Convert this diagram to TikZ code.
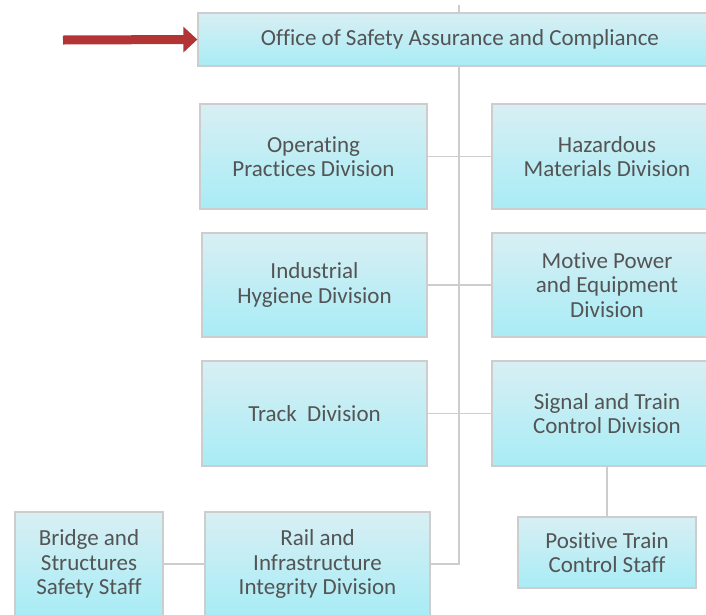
\documentclass[tikz,border=0pt]{standalone}
\usepackage{fontspec}
\setmainfont[Ligatures=NoCommon]{Carlito}
\usetikzlibrary{arrows.meta,positioning}
\definecolor{ctop}{HTML}{D8EFF4}
\definecolor{cbot}{HTML}{A8ECF5}
\definecolor{cline}{HTML}{CDCDCD}
\definecolor{ctext}{HTML}{545454}
\definecolor{cred}{HTML}{B33434}
\tikzset{
  unit/.style={draw=cline,line width=1.3pt,top color=ctop,bottom color=cbot,text=ctext,align=center,inner sep=0pt,font=\fontsize{23}{24.5}\selectfont},
  link/.style={draw=cline,line width=1.8pt},
  redarr/.style={-{Triangle[length=14pt,width=25pt]},line width=9pt,draw=cred},
}
\begin{document}
\begin{tikzpicture}[x=1pt,y=-1pt]
  \useasboundingbox (0,0) rectangle (706,614);
  % head office
  \node[unit,minimum width=524pt,minimum height=53pt] (office) at (460,39.5) {Office of Safety Assurance and Compliance};
  % divisions
  \node[unit,minimum width=227pt,minimum height=105pt] (oper) at (313.5,156.5) {Operating\\Practices Division};
  \node[unit,minimum width=230pt,minimum height=105pt] (haz) at (607,156.5) {Hazardous\\Materials Division};
  \node[unit,minimum width=225pt,minimum height=104pt] (indus) at (314.5,285) {Industrial\\Hygiene Division};
  \node[unit,minimum width=230pt,minimum height=104pt] (motive) at (607,285) {Motive Power\\and Equipment\\Division};
  \node[unit,minimum width=225pt,minimum height=105pt] (track) at (314.5,413.5) {Track\ \ Division};
  \node[unit,minimum width=230pt,minimum height=105pt] (signal) at (607,413.5) {Signal and Train\\Control Division};
  \node[unit,minimum width=225pt,minimum height=104pt] (rail) at (317.5,564) {Rail and\\Infrastructure\\Integrity Division};
  % staffs
  \node[unit,minimum width=148pt,minimum height=104pt] (bridge) at (89,564) {Bridge and\\Structures\\Safety Staff};
  \node[unit,minimum width=178pt,minimum height=71pt] (ptc) at (607,552.5) {Positive Train\\Control Staff};
  % connectors
  \coordinate (tip) at (459,5);
  \coordinate (tail) at (63,40);
  \draw[link] (tip) -- (tip |- office.north);
  \draw[link] (tip |- office.south) |- (rail.east);
  \draw[link] (oper) -- (haz);
  \draw[link] (indus) -- (motive);
  \draw[link] (track) -- (signal);
  \draw[link] (bridge) -- (rail);
  \draw[link] (signal.south) -- (ptc.north);
  \draw[redarr] (tail) -- (office.west);
\end{tikzpicture}
\end{document}
